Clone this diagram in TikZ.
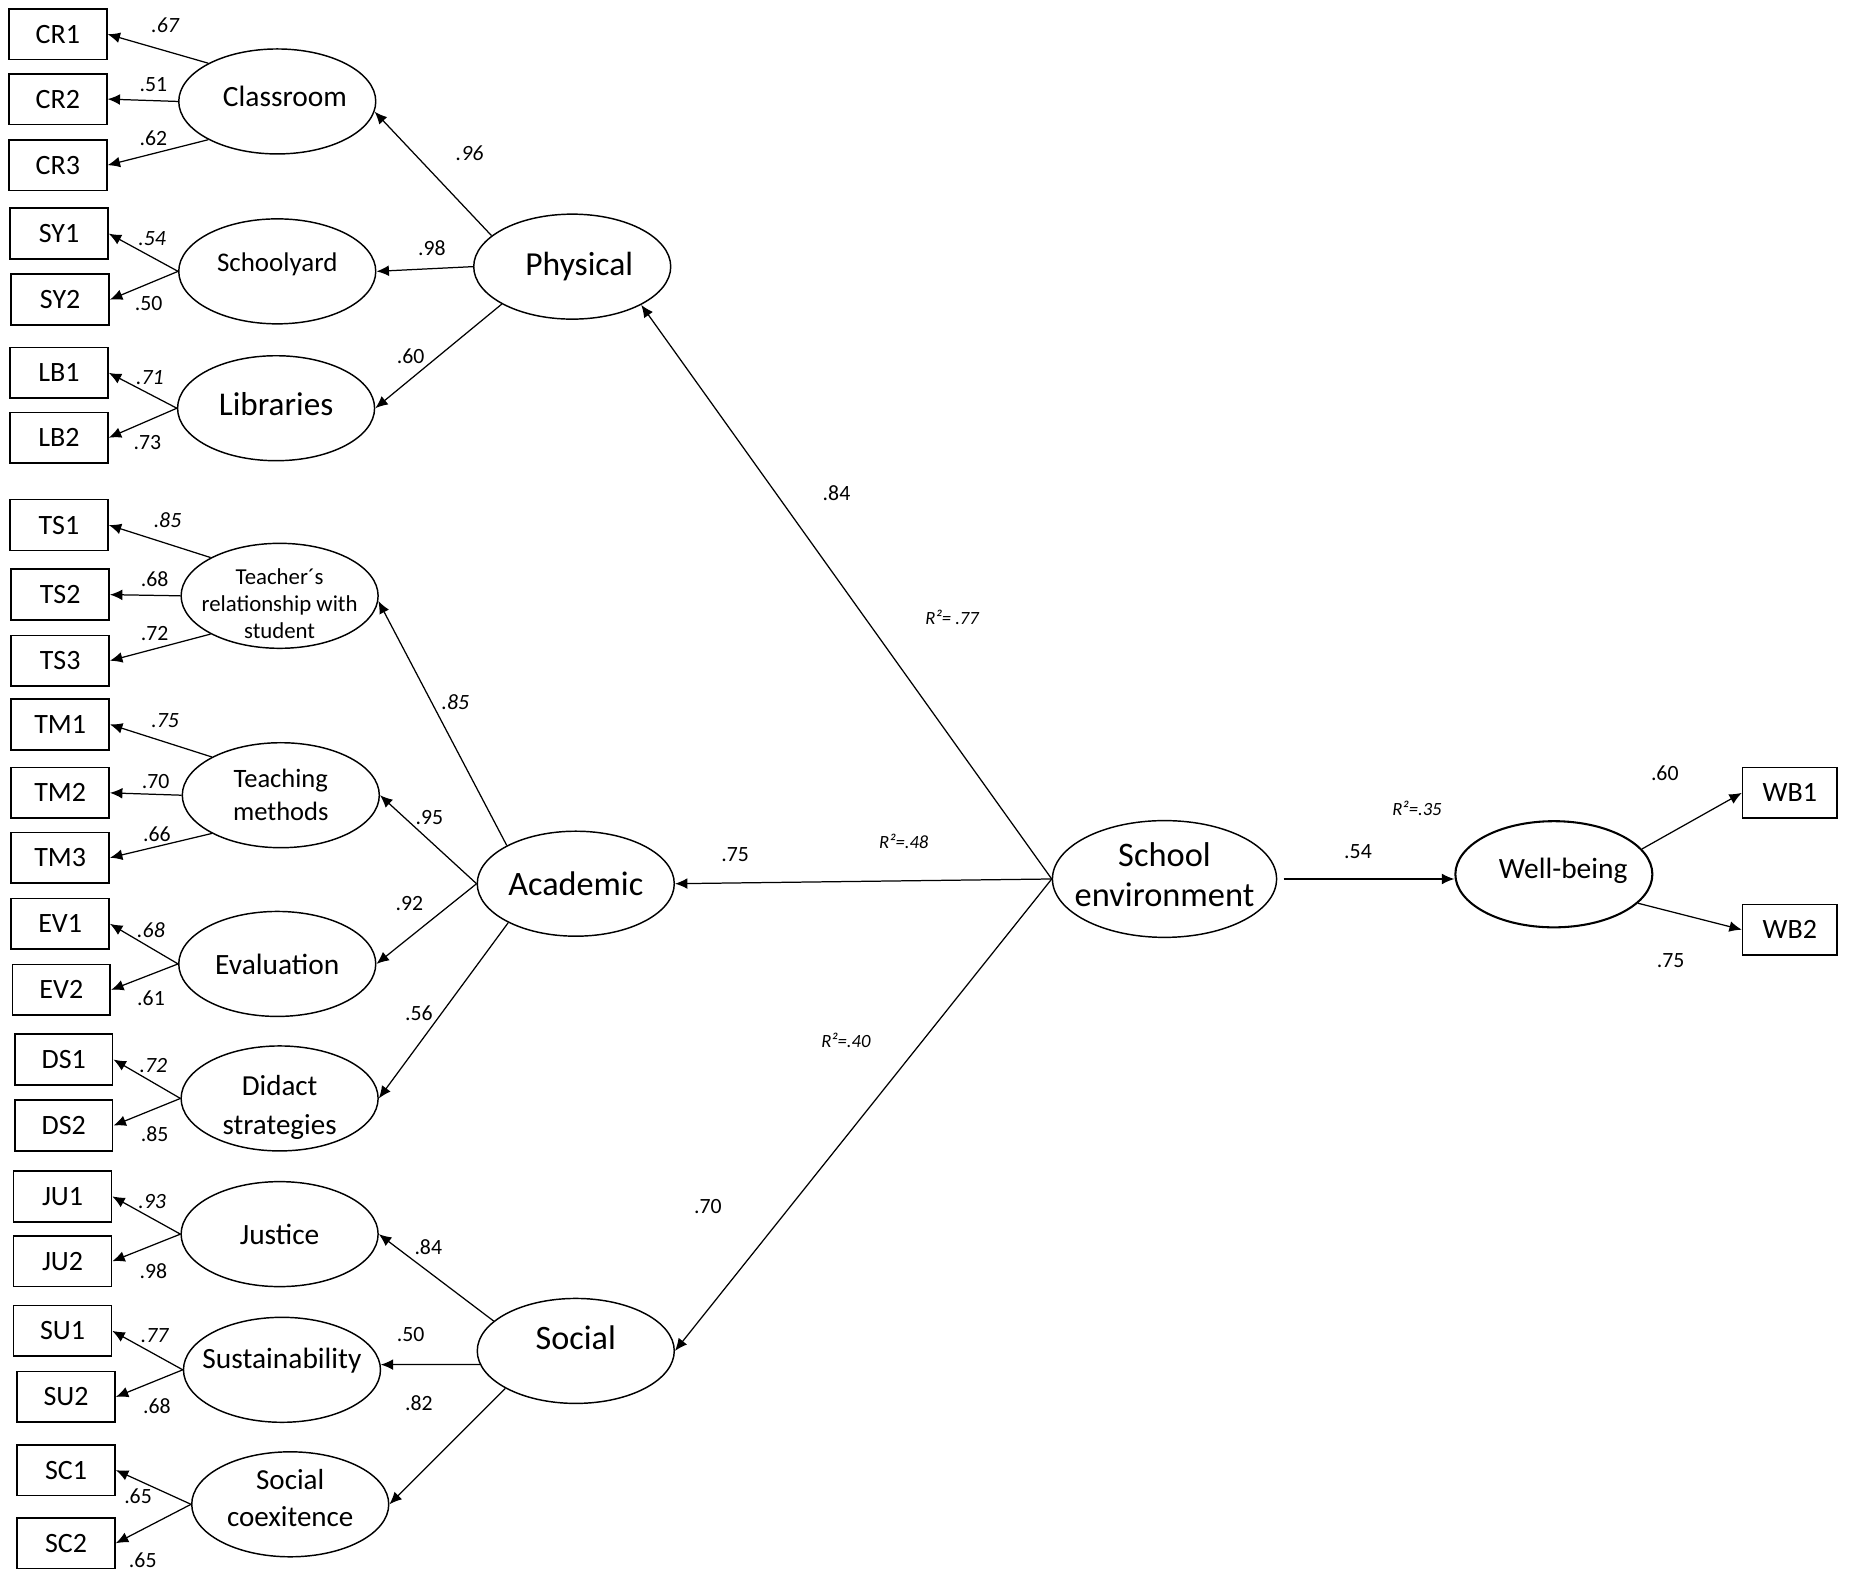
\documentclass[tikz,border=0pt]{standalone}
\usepackage{fontspec}
\setmainfont{Carlito}
\usepackage{tikz}
\usetikzlibrary{shapes.geometric, arrows.meta, positioning}

\begin{document}
\begin{tikzpicture}[
        x=0.02cm, y=-0.02cm,
        ind/.style={rectangle, draw=black, line width=0.8pt, minimum width=1.66cm, minimum height=0.86cm, inner sep=0pt, font=\fontsize{13.5}{16}\selectfont},
        lat/.style={ellipse, draw=black, line width=0.7pt, minimum width=3.34cm, minimum height=1.78cm, inner sep=0pt},
        arrow/.style={-{Latex[length=6pt, width=5.2pt]}, line width=0.6pt},
        coef/.style={inner sep=0pt, font=\fontsize{10.5}{12}\selectfont},
        icoef/.style={inner sep=0pt, font=\itshape\fontsize{10.5}{12}\selectfont},
        rsq/.style={inner sep=0pt, font=\itshape\fontsize{9}{11}\selectfont},
        big/.style={font=\fontsize{16.5}{19}\selectfont},
        mid/.style={font=\fontsize{14.2}{17}\selectfont}
    ]
    \useasboundingbox (0,0) rectangle (1568,1337);

    % Indicators
    \node[ind] (cr1) at (49,29) {CR1};
    \node[ind] (cr2) at (49,84) {CR2};
    \node[ind] (cr3) at (49,140) {CR3};
    \node[ind] (sy1) at (50,198) {SY1};
    \node[ind] (sy2) at (51,254) {SY2};
    \node[ind] (lb1) at (50,316) {LB1};
    \node[ind] (lb2) at (50,371) {LB2};
    \node[ind] (ts1) at (50,445) {TS1};
    \node[ind] (ts2) at (51,504) {TS2};
    \node[ind] (ts3) at (51,560) {TS3};
    \node[ind] (tm1) at (51,614) {TM1};
    \node[ind] (tm2) at (51,672) {TM2};
    \node[ind] (tm3) at (51,727) {TM3};
    \node[ind] (ev1) at (51,783) {EV1};
    \node[ind] (ev2) at (52,839) {EV2};
    \node[ind] (ds1) at (54,898) {DS1};
    \node[ind] (ds2) at (54,954) {DS2};
    \node[ind] (ju1) at (53,1014) {JU1};
    \node[ind] (ju2) at (53,1069) {JU2};
    \node[ind] (su1) at (53,1128) {SU1};
    \node[ind] (su2) at (56,1184) {SU2};
    \node[ind] (sc1) at (56,1246) {SC1};
    \node[ind] (sc2) at (56,1308) {SC2};
    \node[ind, minimum width=1.6cm] (wb1) at (1517,672) {WB1};
    \node[ind, minimum width=1.6cm] (wb2) at (1517,788) {WB2};

    % First-order factors
    \node[lat, label={[mid, xshift=3.7pt, yshift=2.3pt]center:Classroom}] (cl) at (235,86) {};
    \node[lat, label={[font=\fontsize{13}{15}\selectfont, yshift=3.2pt]center:Schoolyard}] (sy) at (235,230) {};
    \node[lat, label={[font=\fontsize{16}{19}\selectfont, yshift=2pt]center:Libraries}] (lb) at (234,346) {};
    \node[lat, label={[align=center, font=\fontsize{11}{13}\selectfont, yshift=-3.7pt]center:Teacher´s\\relationship with\\student}] (ts) at (237,505) {};
    \node[lat, label={[align=center, font=\fontsize{12.8}{16}\selectfont]center:Teaching\\methods}] (tm) at (238,674) {};
    \node[lat, label={[mid]center:Evaluation}] (ev) at (235,817) {};
    \node[lat, label={[align=center, font=\fontsize{14}{18.5}\selectfont, yshift=-4.4pt]center:Didact\\strategies}] (ds) at (237,931) {};
    \node[lat, label={[mid]center:Justice}] (ju) at (237,1046) {};
    \node[lat, label={[mid, yshift=4.4pt]center:Sustainability}] (su) at (239,1161) {};
    \node[lat, label={[align=center, font=\fontsize{14}{17.7}\selectfont, yshift=3pt]center:Social\\coexitence}] (sc) at (246,1275) {};

    % Second-order factors
    \node[lat, label={[font=\fontsize{16.2}{19}\selectfont, xshift=3.4pt]center:Physical}] (phys) at (485,226) {};
    \node[lat, label={[big]center:Academic}] (acad) at (488,749) {};
    \node[lat, label={[big, yshift=6.6pt]center:Social}] (soc) at (488,1145) {};
    \node[lat, minimum width=3.8cm, minimum height=1.98cm, label={[align=center, font=\fontsize{16.6}{19.3}\selectfont, yshift=2.3pt]center:School\\environment}] (se) at (987,745) {};
    \node[lat, line width=1pt, minimum height=1.8cm, label={[mid, xshift=4.5pt, yshift=1.5pt]center:Well-being}] (wb) at (1317,741) {};

    % Arrows
    \draw[arrow] (cl.151) -- (cr1.east);
    \draw[arrow] (cl.west) -- (cr2.east);
    \draw[arrow] (cl.209) -- (cr3.east);
    \draw[arrow] (sy.west) -- (sy1.east);
    \draw[arrow] (sy.west) -- (sy2.east);
    \draw[arrow] (lb.west) -- (lb1.east);
    \draw[arrow] (lb.west) -- (lb2.east);
    \draw[arrow] (ts.151) -- (ts1.east);
    \draw[arrow] (ts.west) -- (ts2.east);
    \draw[arrow] (ts.209) -- (ts3.east);
    \draw[arrow] (tm.151) -- (tm1.east);
    \draw[arrow] (tm.west) -- (tm2.east);
    \draw[arrow] (tm.209) -- (tm3.east);
    \draw[arrow] (ev.west) -- (ev1.east);
    \draw[arrow] (ev.west) -- (ev2.east);
    \draw[arrow] (ds.west) -- (ds1.east);
    \draw[arrow] (ds.west) -- (ds2.east);
    \draw[arrow] (ju.west) -- (ju1.east);
    \draw[arrow] (ju.west) -- (ju2.east);
    \draw[arrow] (su.west) -- (su1.east);
    \draw[arrow] (su.west) -- (su2.east);
    \draw[arrow] (sc.west) -- (sc1.east);
    \draw[arrow] (sc.west) -- (sc2.east);

    \draw[arrow] (phys.159) -- (cl.-6);
    \draw[arrow] (phys.west) -- (sy.east);
    \draw[arrow] (phys.208) -- (lb.east);
    \draw[arrow] (acad.151) -- (ts.-3);
    \draw[arrow] (acad.west) -- (tm.east);
    \draw[arrow] (acad.west) -- (ev.east);
    \draw[arrow] (acad.210) -- (ds.east);
    \draw[arrow] (soc.160) -- (ju.east);
    \draw[arrow] (soc.188) -- (su.3);
    \draw[arrow] (soc.208) -- (sc.east);

    \draw[arrow] (se.west) -- (phys.-29);
    \draw[arrow] (se.west) -- (acad.east);
    \draw[arrow] (se.west) -- (soc.east);
    \draw[arrow, shorten <=3pt] (se.east) -- (se.east -| wb.west);
    \draw[arrow] (wb.16) -- (wb1.west);
    \draw[arrow] (wb.-19) -- (wb2.west);

    % Loadings
    \node[icoef] (k-cr1) at (140,21) {.67};
    \node[coef] (k-cr2) at (130,72) {.51};
    \node[coef] (k-cr3) at (130,117) {.62};
    \node[icoef] (k-sy1) at (129,202) {.54};
    \node[coef] (k-sy2) at (126,257) {.50};
    \node[icoef] (k-lb1) at (127,320) {.71};
    \node[coef] (k-lb2) at (125,375) {.73};
    \node[icoef] (k-ts1) at (142,441) {.85};
    \node[coef] (k-ts2) at (131,491) {.68};
    \node[coef] (k-ts3) at (131,537) {.72};
    \node[icoef] (k-tm1) at (140,611) {.75};
    \node[coef] (k-tm2) at (132,662) {.70};
    \node[coef] (k-tm3) at (133,707) {.66};
    \node[icoef] (k-ev1) at (128,788) {.68};
    \node[coef] (k-ev2) at (128,846) {.61};
    \node[icoef] (k-ds1) at (130,903) {.72};
    \node[coef] (k-ds2) at (131,961) {.85};
    \node[icoef] (k-ju1) at (129,1018) {.93};
    \node[coef] (k-ju2) at (130,1077) {.98};
    \node[icoef] (k-su1) at (131,1132) {.77};
    \node[coef] (k-su2) at (133,1192) {.68};
    \node[coef] (k-sc1) at (117,1268) {.65};
    \node[coef] (k-sc2) at (121,1322) {.65};

    \node[icoef] (k-cl) at (398,130) {.96};
    \node[coef] (k-sy) at (366,210) {.98};
    \node[coef] (k-lb) at (348,302) {.60};
    \node[icoef] (k-ts) at (386,595) {.85};
    \node[coef] (k-tm) at (364,693) {.95};
    \node[coef] (k-ev) at (347,766) {.92};
    \node[coef] (k-ds) at (355,859) {.56};
    \node[coef] (k-ju) at (363,1057) {.84};
    \node[coef] (k-su) at (348,1131) {.50};
    \node[coef] (k-sc) at (355,1189) {.82};

    \node[coef] (k-phys) at (709,418) {.84};
    \node[coef] (k-acad) at (623,724) {.75};
    \node[coef] (k-soc) at (600,1023) {.70};
    \node[coef] (k-wb) at (1151,722) {.54};
    \node[coef] (k-wb1) at (1411,655) {.60};
    \node[coef] (k-wb2) at (1416,814) {.75};

    % Explained variance
    \node[rsq] (r-phys) at (807,523) {R²= .77};
    \node[rsq] (r-acad) at (766,713) {R²=.48};
    \node[rsq] (r-soc) at (717,882) {R²=.40};
    \node[rsq] (r-wb) at (1201,685) {R²=.35};

\end{tikzpicture}
\end{document}
